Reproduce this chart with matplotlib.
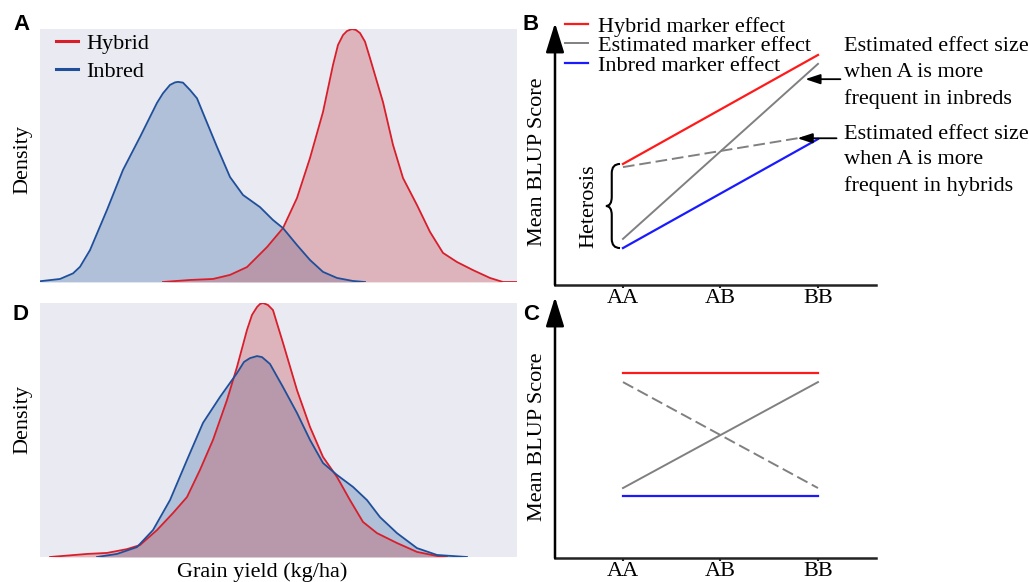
import numpy as np
import matplotlib.pyplot as plt
from matplotlib.path import Path
from matplotlib.patches import PathPatch

plt.rcParams['font.family'] = ['Liberation Serif', 'DejaVu Serif']

# ---- density curves (x: relative grain yield, y: density scaled to panel max) ----
# panel A
a_inbred_x = [0, 20, 33, 40, 50, 67, 83, 100, 117, 123, 130, 135, 138, 143, 150, 157,
              163, 177, 190, 203, 220, 233, 243, 257, 270, 283, 297, 313, 325]
a_inbred_y = [0.003, 0.012, 0.034, 0.06, 0.126, 0.285, 0.443, 0.573, 0.708, 0.746,
              0.779, 0.789, 0.791, 0.788, 0.759, 0.726, 0.668, 0.534, 0.415, 0.344,
              0.296, 0.245, 0.213, 0.146, 0.087, 0.040, 0.016, 0.004, 0.0]
a_hybrid_x = [123, 150, 173, 190, 207, 227, 243, 257, 270, 283, 293, 298, 303, 307,
              312, 316, 320, 325, 330, 343, 353, 363, 377, 390, 403, 417, 433, 450,
              463, 477]
a_hybrid_y = [0.0, 0.008, 0.012, 0.028, 0.059, 0.138, 0.213, 0.332, 0.490, 0.672,
              0.858, 0.937, 0.976, 0.992, 1.0, 0.996, 0.984, 0.95, 0.885, 0.711,
              0.542, 0.411, 0.304, 0.198, 0.115, 0.079, 0.047, 0.016, 0.0, 0.0]
# panel D
d_hybrid_x = [10, 47, 67, 87, 100, 117, 133, 147, 160, 173, 187, 197, 207, 212, 217,
              220, 223, 228, 233, 237, 243, 257, 270, 283, 297, 310, 323, 337, 357,
              377, 397, 407]
d_hybrid_y = [0.0, 0.012, 0.016, 0.031, 0.047, 0.106, 0.173, 0.236, 0.343, 0.461,
              0.618, 0.748, 0.894, 0.953, 0.984, 0.996, 1.0, 0.992, 0.972, 0.92,
              0.843, 0.657, 0.512, 0.394, 0.315, 0.224, 0.138, 0.094, 0.055, 0.020,
              0.004, 0.0]
d_inbred_x = [57, 77, 97, 113, 130, 147, 163, 180, 197, 204, 210, 217, 222, 230, 243,
              257, 270, 283, 297, 313, 327, 340, 357, 377, 397, 427]
d_inbred_y = [0.0, 0.012, 0.039, 0.106, 0.224, 0.382, 0.528, 0.630, 0.724, 0.768,
              0.783, 0.791, 0.787, 0.760, 0.669, 0.567, 0.461, 0.370, 0.323, 0.276,
              0.224, 0.157, 0.094, 0.035, 0.008, 0.0]

# ---- marker effect schematics ----
genotypes = ['AA', 'AB', 'BB']
b_hybrid = [4.62, 8.78]
b_est_inbred = [1.76, 8.44]
b_est_hybrid = [4.50, 5.73]
b_inbred = [1.41, 5.57]
c_hybrid = [7.09, 7.09]
c_est_up = [2.68, 6.74]
c_est_down = [6.74, 2.68]
c_inbred = [2.38, 2.38]
ends = [0, 2]

W, H = 1029, 582
fig = plt.figure(figsize=(W / 100, H / 100), dpi=100)


def box(x0, y0, x1, y1):
    return [x0 / W, 1 - y1 / H, (x1 - x0) / W, (y1 - y0) / H]


def ftext(x, y, s, **kw):
    fig.text(x / W, 1 - y / H, s, **kw)


RED_LINE, BLUE_LINE = '#d81e2a', '#1f4f9a'
RED_FILL, BLUE_FILL = '#c85058', '#4472a8'


def density(ax, hx, hy, ix, iy):
    ax.set_facecolor('#eaeaf2')
    ax.fill_between(ix, iy, color=BLUE_FILL, alpha=0.35, lw=0)
    ax.fill_between(hx, hy, color=RED_FILL, alpha=0.35, lw=0)
    ax.plot(hx, hy, color=RED_LINE, lw=1.3, label='Hybrid', solid_joinstyle='round')
    ax.plot(ix, iy, color=BLUE_LINE, lw=1.3, label='Inbred', solid_joinstyle='round')
    ax.set_xlim(0, 477)
    ax.set_ylim(0, 1.0)
    ax.set_xticks([])
    ax.set_yticks([])
    for s in ax.spines.values():
        s.set_visible(False)


axA = fig.add_axes(box(40, 29, 517, 282))
density(axA, a_hybrid_x, a_hybrid_y, a_inbred_x, a_inbred_y)
legA = axA.legend(loc='upper left', bbox_to_anchor=(56 / W, 1 - 33 / H),
                  bbox_transform=fig.transFigure, frameon=False, fontsize=16,
                  handlelength=1.0, handletextpad=0.35, labelspacing=0.34,
                  borderpad=0, borderaxespad=0)
for l in legA.get_lines():
    l.set_linewidth(2.2)

axD = fig.add_axes(box(40, 303, 517, 557))
density(axD, d_hybrid_x, d_hybrid_y, d_inbred_x, d_inbred_y)

ftext(23, 160, 'Density', rotation=90, ha='center', va='center', fontsize=16)
ftext(23, 420, 'Density', rotation=90, ha='center', va='center', fontsize=16)
ftext(262, 572, 'Grain yield (kg/ha)', ha='center', va='center', fontsize=16)


def schematic(ax):
    ax.set_xlim(-0.697, 2.595)
    ax.set_ylim(0, 10)
    ax.set_facecolor('none')
    for s in ['top', 'right', 'left']:
        ax.spines[s].set_visible(False)
    ax.spines['bottom'].set_linewidth(1.8)
    ax.spines['bottom'].set_color('#222222')
    ax.set_yticks([])
    ax.set_xticks(range(3), genotypes)
    ax.tick_params(axis='x', direction='out', length=2.5, width=1.5,
                   color='#222222', labelsize=16, pad=0.6)
    ax.annotate('', xy=(0, 1), xytext=(0, 0), xycoords='axes fraction',
                arrowprops=dict(arrowstyle='-|>,head_length=0.9,head_width=0.28',
                                lw=1.8, color='black', mutation_scale=20,
                                shrinkA=0, shrinkB=0))


axB = fig.add_axes(box(555, 23, 876, 285))
schematic(axB)
axB.plot(ends, b_hybrid, color='#ff1a1a', lw=1.6, label='Hybrid marker effect')
axB.plot(ends, b_est_inbred, color='#808080', lw=1.4, label='Estimated marker effect')
axB.plot(ends, b_inbred, color='#1a1aff', lw=1.6, label='Inbred marker effect')
axB.plot(ends, b_est_hybrid, color='#808080', lw=1.4, ls=(0, (6, 2.5)))
axB.legend(loc='upper left', bbox_to_anchor=(565 / W, 1 - 16 / H),
           bbox_transform=fig.transFigure, frameon=False, fontsize=16,
           handlelength=1.05, handletextpad=0.45, labelspacing=-0.04,
           borderpad=0, borderaxespad=0)

# heterosis brace between the hybrid and inbred values at AA
yt, yb = b_hybrid[0], b_inbred[0]
ym = (yt + yb) / 2
xr, xm, xl, r = -0.03, -0.115, -0.175, 0.35
verts = [(xr, yt), (xm, yt), (xm, yt - r),
         (xm, ym + r),
         (xm, ym), (xl, ym),
         (xm, ym), (xm, ym - r),
         (xm, yb + r),
         (xm, yb), (xr, yb)]
codes = [Path.MOVETO, Path.CURVE3, Path.CURVE3, Path.LINETO, Path.CURVE3, Path.CURVE3,
         Path.CURVE3, Path.CURVE3, Path.LINETO, Path.CURVE3, Path.CURVE3]
axB.add_patch(PathPatch(Path(verts, codes), fill=False, lw=1.5, color='black',
                        clip_on=False))
axB.text(-0.35, ym, 'Heterosis', rotation=90, ha='center', va='center', fontsize=16)

arr = dict(arrowstyle='-|>,head_length=0.9,head_width=0.3', lw=1.3, color='black',
           mutation_scale=10, shrinkA=0, shrinkB=0)
x1 = 1.87
y1 = np.interp(x1, ends, b_est_inbred) - 0.15
axB.annotate('', xy=(x1, y1), xytext=(2.23, y1), arrowprops=arr, annotation_clip=False)
axB.text(2.27, 8.1, 'Estimated effect size\nwhen A is more\nfrequent in inbreds',
         ha='left', va='center', fontsize=16, linespacing=1.47, clip_on=False)
x2 = 1.79
y2 = np.interp(x2, ends, b_est_hybrid)
axB.annotate('', xy=(x2, y2), xytext=(2.19, y2), arrowprops=arr, annotation_clip=False)
axB.text(2.27, 4.75, 'Estimated effect size\nwhen A is more\nfrequent in hybrids',
         ha='left', va='center', fontsize=16, linespacing=1.47, clip_on=False)

axC = fig.add_axes(box(555, 297, 876, 558))
schematic(axC)
axC.plot(ends, c_hybrid, color='#ff1a1a', lw=1.6)
axC.plot(ends, c_est_up, color='#808080', lw=1.4)
axC.plot(ends, c_est_down, color='#808080', lw=1.4, ls=(0, (6, 2.5)))
axC.plot(ends, c_inbred, color='#1a1aff', lw=1.6)

ftext(538, 162, 'Mean BLUP Score', rotation=90, ha='center', va='center', fontsize=16)
ftext(538, 437, 'Mean BLUP Score', rotation=90, ha='center', va='center', fontsize=16)

for lab, x, y in [('A', 22, 25), ('B', 531, 25), ('D', 21, 314), ('C', 531, 315)]:
    ftext(x, y, lab, ha='center', va='center', fontsize=16, fontweight='bold',
          family='Liberation Sans')

fig.savefig('out.png', dpi=100)
